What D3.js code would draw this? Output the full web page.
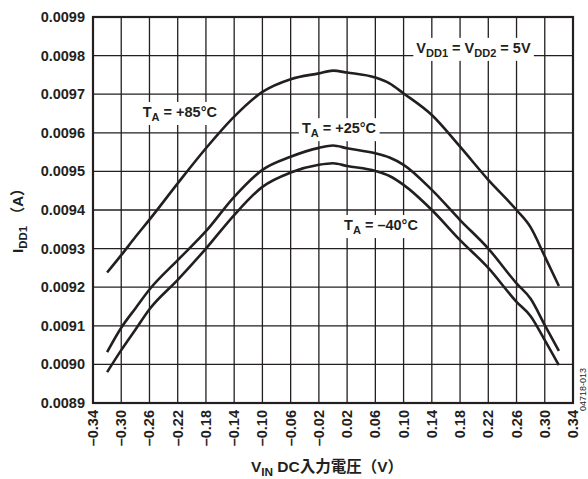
<!DOCTYPE html>
<html>
<head>
<meta charset="utf-8">
<script src="https://cdn.jsdelivr.net/npm/d3@7"></script>
<style>
  body { margin: 0; background: #fff; }
  text { font-family: "Liberation Sans", Arial, sans-serif; fill: #231f20; }
  .jp { font-family: "Liberation Sans", "Noto Sans CJK JP", sans-serif; }
</style>
</head>
<body>
<script>
// input voltage (V)
const vin = [-0.32, -0.30, -0.28, -0.26, -0.22, -0.18, -0.14, -0.10, -0.06, -0.02, 0.00,
             0.02, 0.06, 0.08, 0.10, 0.14, 0.18, 0.22, 0.26, 0.28, 0.30, 0.32];

// IDD1 (A) per temperature
const idd85 = [0.009238, 0.009283, 0.009330, 0.009375, 0.009469, 0.009560, 0.009642, 0.009706, 0.009739, 0.009754, 0.009761,
               0.009756, 0.009743, 0.009728, 0.009702, 0.009646, 0.009564, 0.009478, 0.009400, 0.009355, 0.009280, 0.009203];
const idd25 = [0.009032, 0.009095, 0.009145, 0.009194, 0.009270, 0.009345, 0.009434, 0.009504, 0.009538, 0.009561, 0.009567,
               0.009560, 0.009547, 0.009536, 0.009517, 0.009452, 0.009374, 0.009300, 0.009210, 0.009170, 0.009102, 0.009035];
const iddM40 = [0.008980, 0.009037, 0.009090, 0.009143, 0.009219, 0.009300, 0.009387, 0.009460, 0.009497, 0.009517, 0.009521,
                0.009514, 0.009501, 0.009488, 0.009465, 0.009400, 0.009322, 0.009250, 0.009162, 0.009125, 0.009063, 0.008998];

const xTicks = [-0.34, -0.30, -0.26, -0.22, -0.18, -0.14, -0.10, -0.06, -0.02,
                0.02, 0.06, 0.10, 0.14, 0.18, 0.22, 0.26, 0.30, 0.34];
const yTicks = [0.0089, 0.0090, 0.0091, 0.0092, 0.0093, 0.0094, 0.0095, 0.0096, 0.0097, 0.0098, 0.0099];

const width = 588, height = 479;
const pLeft = 93, pRight = 573, pTop = 17, pBottom = 403;

const svg = d3.select("body").append("svg")
  .attr("width", width)
  .attr("height", height);

const x = d3.scaleLinear().domain([-0.34, 0.34]).range([pLeft, pRight]);
const y = d3.scaleLinear().domain([0.0089, 0.0099]).range([pBottom, pTop]);

// grid
const grid = svg.append("g").attr("stroke", "#231f20").attr("stroke-width", 1.3);
grid.selectAll("line.v")
  .data(xTicks)
  .enter().append("line")
  .attr("x1", d => x(d)).attr("x2", d => x(d))
  .attr("y1", pTop).attr("y2", pBottom);
grid.selectAll("line.h")
  .data(yTicks)
  .enter().append("line")
  .attr("x1", pLeft).attr("x2", pRight)
  .attr("y1", d => y(d)).attr("y2", d => y(d));

// sub-scripted text helper: parts are [text, isSub]
const richText = (t, parts, size) => {
  let prevSub = false;
  parts.forEach(p => {
    const sub = !!p[1];
    t.append("tspan")
      .attr("font-size", sub ? size * 0.76 : size)
      .attr("dy", sub ? 4 : (prevSub ? -4 : 0))
      .text(p[0]);
    prevSub = sub;
  });
};

// curve labels, each on a white box that covers the grid (v, i = label baseline centre)
const labels = [
  { v: -0.217, i: 0.009654, parts: [["T"], ["A", 1], [" = +85°C"]] },
  { v: 0.0085, i: 0.009612, parts: [["T"], ["A", 1], [" = +25°C"]] },
  { v: 0.068, i: 0.009361, parts: [["T"], ["A", 1], [" = –40°C"]] },
  { v: 0.199, i: 0.009820, parts: [["V"], ["DD1", 1], [" = V"], ["DD2", 1], [" = 5V"]] }
];

const labelG = svg.append("g");
labels.forEach(l => {
  const g = labelG.append("g");
  const rect = g.append("rect").attr("fill", "#fff");
  const t = g.append("text")
    .attr("x", x(l.v)).attr("y", y(l.i) + 5)
    .attr("text-anchor", "middle")
    .attr("font-weight", "bold");
  richText(t, l.parts, 14.5);
  const b = t.node().getBBox();
  rect.attr("x", b.x - 3).attr("y", b.y - 2)
    .attr("width", b.width + 6).attr("height", b.height + 4);
});

// frame
svg.append("rect")
  .attr("x", pLeft).attr("y", pTop)
  .attr("width", pRight - pLeft).attr("height", pBottom - pTop)
  .attr("fill", "none").attr("stroke", "#231f20").attr("stroke-width", 2.2);

// curves
const line = d3.line()
  .x((d, k) => x(vin[k]))
  .y(d => y(d))
  .curve(d3.curveMonotoneX);

svg.append("g")
  .selectAll("path")
  .data([idd85, idd25, iddM40])
  .enter().append("path")
  .attr("d", line)
  .attr("fill", "none")
  .attr("stroke", "#231f20")
  .attr("stroke-width", 2.6)
  .attr("stroke-linejoin", "round");

// y tick labels
svg.append("g")
  .selectAll("text")
  .data(yTicks)
  .enter().append("text")
  .attr("x", pLeft - 8).attr("y", d => y(d) + 5)
  .attr("text-anchor", "end")
  .attr("font-size", 14.5).attr("font-weight", "bold")
  .text(d => d3.format(".4f")(d));

// x tick labels
const fmtX = d => d3.format(".2f")(d).replace("−", "–");
svg.append("g")
  .selectAll("text")
  .data(xTicks)
  .enter().append("text")
  .attr("transform", d => `translate(${x(d) + 5},${pBottom + 7}) rotate(-90)`)
  .attr("text-anchor", "end")
  .attr("font-size", 14.5).attr("font-weight", "bold")
  .text(fmtX);

// y title
const yt = svg.append("text")
  .attr("class", "jp")
  .attr("transform", `translate(23,217) rotate(-90)`)
  .attr("text-anchor", "middle")
  .attr("font-weight", "bold");
richText(yt, [["I"], ["DD1", 1], [" （A）"]], 15);

// x title
const xt = svg.append("text")
  .attr("class", "jp")
  .attr("x", 327).attr("y", 472)
  .attr("text-anchor", "middle")
  .attr("font-weight", "bold");
richText(xt, [["V"], ["IN", 1], [" DC入力電圧（V）"]], 15.5);

// figure code
svg.append("text")
  .attr("transform", `translate(586,411) rotate(-90)`)
  .attr("font-size", 9)
  .text("04718-013");
</script>
</body>
</html>
